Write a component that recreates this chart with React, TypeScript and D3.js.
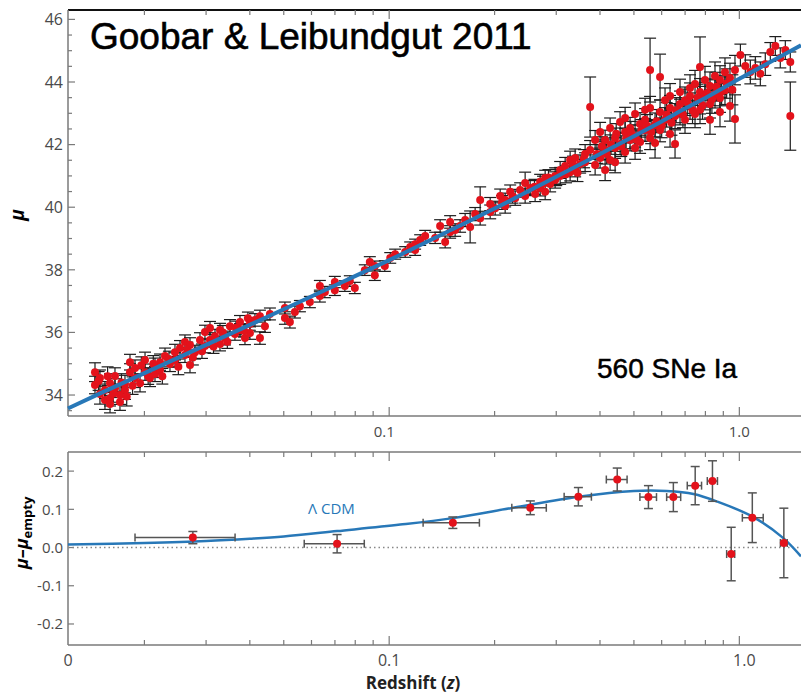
import * as d3 from 'd3'

// --- DATA ---
// Hubble diagram points: [z, mu, sigma_mu]
const nearbySNe: [number, number, number][] = [
  [0.01445, 34.73, 0.3], [0.01445, 34.32, 0.28], [0.01493, 34.03, 0.32], [0.01493, 34.54, 0.26],
  [0.01543, 33.84, 0.3], [0.01543, 34.16, 0.27], [0.01595, 34.38, 0.3], [0.01595, 33.9, 0.25],
  [0.01595, 33.71, 0.28], [0.01648, 34.22, 0.3], [0.01648, 34.61, 0.26], [0.01703, 34.0, 0.3],
  [0.01703, 33.78, 0.27], [0.0176, 34.35, 0.28], [0.0176, 34.16, 0.3], [0.01819, 34.73, 0.27],
  [0.01819, 35.05, 0.25], [0.0188, 34.54, 0.3], [0.0188, 34.86, 0.26], [0.01943, 34.38, 0.28],
  [0.02008, 34.73, 0.26], [0.02008, 35.12, 0.25], [0.02075, 34.54, 0.27], [0.02144, 34.93, 0.25],
  [0.02144, 34.67, 0.24], [0.02216, 35.05, 0.26], [0.02216, 34.8, 0.24], [0.0229, 35.25, 0.25],
  [0.02366, 34.99, 0.24], [0.02445, 35.37, 0.25], [0.02445, 35.12, 0.23], [0.02527, 35.5, 0.24],
  [0.02611, 35.69, 0.23], [0.02611, 35.28, 0.24], [0.02699, 34.96, 0.25], [0.02699, 35.6, 0.23],
  [0.02789, 35.37, 0.22], [0.02882, 35.76, 0.23], [0.02978, 35.57, 0.22], [0.02978, 36.01, 0.22],
  [0.03078, 35.76, 0.23], [0.03078, 36.14, 0.21], [0.03181, 35.88, 0.22], [0.03287, 35.63, 0.22],
  [0.03287, 36.08, 0.21], [0.03397, 35.82, 0.22], [0.0351, 36.2, 0.21], [0.03627, 35.95, 0.2],
  [0.03749, 36.33, 0.21], [0.03749, 36.08, 0.2], [0.03874, 35.82, 0.21], [0.04003, 36.27, 0.2],
  [0.04003, 35.98, 0.2],
  [0.0148, 34.45, 0.3], [0.0157, 34.6, 0.3], [0.0163, 34.05, 0.28], [0.0172, 34.4, 0.28],
  [0.0178, 33.95, 0.3], [0.0185, 34.3, 0.28], [0.0196, 34.95, 0.27], [0.0205, 34.6, 0.26],
  [0.0212, 35.0, 0.26], [0.0225, 34.6, 0.25], [0.0235, 35.15, 0.25], [0.025, 34.9, 0.25],
  [0.0265, 35.45, 0.24], [0.0275, 35.2, 0.24], [0.0292, 35.4, 0.23], [0.0315, 35.55, 0.22],
  [0.0335, 36.0, 0.22], [0.0345, 35.7, 0.21], [0.0365, 36.15, 0.21], [0.0385, 36.05, 0.2],
  [0.0395, 36.45, 0.2],
]

const midSNe: [number, number, number][] = [
  [0.04275, 35.82, 0.2], [0.04137, 36.4, 0.2], [0.04275, 36.52, 0.19], [0.04418, 36.2, 0.2],
  [0.04565, 36.59, 0.19], [0.05038, 36.46, 0.2], [0.05038, 36.78, 0.19], [0.05206, 36.33, 0.19],
  [0.0538, 36.65, 0.19], [0.0556, 36.84, 0.18], [0.05937, 36.97, 0.18], [0.0634, 37.16, 0.19],
  [0.0634, 37.48, 0.18], [0.06552, 37.29, 0.18], [0.06996, 37.61, 0.18], [0.06996, 37.35, 0.17],
  [0.07472, 37.48, 0.17], [0.07721, 37.64, 0.17], [0.07979, 37.42, 0.18], [0.08521, 37.99, 0.17],
  [0.08805, 38.25, 0.17], [0.09099, 37.83, 0.17], [0.09099, 38.12, 0.16], [0.09717, 38.12, 0.17],
  [0.1007, 38.38, 0.17], [0.104, 38.5, 0.16], [0.1111, 38.57, 0.17], [0.1148, 38.73, 0.16],
  [0.1186, 38.63, 0.17], [0.1186, 38.82, 0.16], [0.1226, 38.95, 0.17], [0.1267, 39.08, 0.18],
  [0.1353, 39.02, 0.18], [0.1398, 39.4, 0.2], [0.1445, 38.89, 0.19], [0.1493, 39.21, 0.2],
  [0.1493, 39.53, 0.2], [0.1543, 39.27, 0.2], [0.1594, 39.4, 0.2], [0.1648, 39.59, 0.21],
  [0.1703, 39.37, 0.51], [0.176, 39.78, 0.21], [0.1819, 40.23, 0.42], [0.1819, 39.65, 0.22],
  [0.1943, 39.85, 0.22], [0.1943, 40.1, 0.21], [0.2008, 39.97, 0.22], [0.2075, 40.36, 0.22],
  [0.2144, 40.23, 0.22], [0.2144, 40.04, 0.23], [0.2216, 40.49, 0.22], [0.229, 40.29, 0.23],
  [0.2366, 40.55, 0.23], [0.2445, 40.77, 0.35], [0.2445, 40.36, 0.23], [0.2527, 40.61, 0.24],
  [0.2611, 40.42, 0.24], [0.2699, 40.81, 0.24], [0.2699, 40.61, 0.25], [0.2789, 40.93, 0.25],
  [0.2789, 40.49, 0.25], [0.2882, 40.74, 0.25], [0.2978, 41.0, 0.26], [0.2978, 40.87, 0.26],
  [0.3078, 41.19, 0.27], [0.3078, 41.0, 0.27], [0.3181, 41.32, 0.27], [0.3287, 41.12, 0.28],
  [0.3287, 41.51, 0.28], [0.3397, 41.25, 0.28], [0.3397, 41.57, 0.29], [0.351, 41.38, 0.29],
  [0.3627, 41.7, 0.3], [0.3627, 41.44, 0.3],
  [0.21, 40.15, 0.22], [0.225, 40.35, 0.22], [0.26, 40.65, 0.24], [0.275, 40.75, 0.24],
  [0.285, 40.95, 0.25], [0.3, 40.95, 0.26], [0.32, 41.05, 0.27], [0.335, 41.35, 0.28],
  [0.345, 41.1, 0.28], [0.36, 41.55, 0.29],
]

const distantSNe: [number, number, number][] = [
  [0.3749, 41.83, 0.3], [0.3874, 41.35, 0.32], [0.3874, 42.15, 0.3], [0.4003, 41.57, 0.32],
  [0.4003, 42.4, 0.31], [0.4137, 41.19, 0.34], [0.4137, 41.83, 0.32], [0.4137, 42.15, 0.31],
  [0.4275, 41.51, 0.33], [0.4275, 42.53, 0.32], [0.4418, 41.89, 0.33], [0.4418, 42.21, 0.32],
  [0.4418, 41.44, 0.34], [0.4565, 42.72, 0.33], [0.4565, 42.02, 0.34], [0.4718, 42.4, 0.34],
  [0.4718, 41.76, 0.35], [0.4718, 42.85, 0.34], [0.4875, 42.15, 0.35], [0.4875, 42.53, 0.34],
  [0.5038, 41.89, 0.36], [0.5038, 42.98, 0.35], [0.5038, 42.27, 0.35], [0.5206, 42.66, 0.36],
  [0.5206, 42.08, 0.36], [0.538, 43.11, 0.37], [0.538, 42.47, 0.36], [0.538, 42.79, 0.36],
  [0.556, 42.21, 0.37], [0.556, 43.17, 0.37], [0.5745, 42.63, 0.38], [0.5745, 42.05, 0.48],
  [0.5937, 43.04, 0.38], [0.5937, 42.47, 0.38], [0.6135, 43.42, 0.39], [0.6135, 42.79, 0.39],
  [0.634, 43.17, 0.4], [0.634, 42.34, 0.42], [0.634, 43.55, 0.4], [0.6552, 42.91, 0.4],
  [0.6552, 42.02, 0.45], [0.677, 43.3, 0.41], [0.677, 43.68, 0.41], [0.677, 43.04, 0.41],
  [0.6996, 43.42, 0.42], [0.6996, 42.79, 0.43], [0.723, 43.81, 0.42], [0.723, 43.23, 0.42],
  [0.723, 43.55, 0.42], [0.7472, 42.98, 0.44], [0.7472, 43.94, 0.43], [0.7721, 43.42, 0.44],
  [0.7721, 43.68, 0.43], [0.7721, 43.11, 0.44], [0.7979, 44.06, 0.44], [0.7979, 43.55, 0.44],
  [0.8245, 42.79, 0.46], [0.8245, 43.87, 0.45], [0.8245, 43.3, 0.45], [0.8521, 44.19, 0.45],
  [0.8521, 43.62, 0.45], [0.8805, 43.04, 0.47], [0.8805, 44.06, 0.46], [0.8805, 43.49, 0.46],
  [0.9099, 44.31, 0.46], [0.9099, 43.74, 0.46], [0.9403, 43.23, 0.48], [0.9403, 44.13, 0.47],
  [0.9717, 44.38, 0.47], [1.007, 44.86, 0.35], [1.04, 44.51, 0.36], [1.075, 44.32, 0.38],
  [1.111, 44.45, 0.36], [1.148, 44.26, 0.38], [1.186, 44.57, 0.36], [1.226, 44.96, 0.3],
  [1.267, 45.15, 0.3], [1.309, 44.77, 0.32], [1.353, 45.02, 0.3], [1.398, 44.64, 0.32],
  [0.392, 41.7, 0.3], [0.405, 41.95, 0.3], [0.418, 41.7, 0.32], [0.43, 42.0, 0.31],
  [0.445, 42.35, 0.32], [0.46, 41.95, 0.33], [0.475, 42.2, 0.33], [0.49, 42.4, 0.34],
  [0.51, 42.15, 0.35], [0.525, 42.45, 0.35], [0.545, 42.6, 0.36], [0.56, 42.4, 0.37],
  [0.58, 42.75, 0.37], [0.6, 42.6, 0.38], [0.62, 42.95, 0.39], [0.64, 42.7, 0.4],
  [0.66, 43.1, 0.4], [0.69, 42.95, 0.41], [0.71, 43.35, 0.42], [0.735, 43.1, 0.43],
  [0.76, 43.5, 0.43], [0.785, 43.25, 0.44], [0.81, 43.65, 0.45], [0.835, 43.45, 0.45],
  [0.86, 43.85, 0.46], [0.89, 43.7, 0.46], [0.92, 43.95, 0.47], [0.955, 43.75, 0.48],
]

const outlierSNe: [number, number, number][] = [
  [0.3749, 43.2, 0.96], [0.556, 44.38, 1.02], [0.5937, 44.16, 0.73],
  [0.7721, 44.48, 0.96], [0.9717, 42.82, 0.77], [1.398, 42.91, 1.09],
]

// LCDM distance modulus (H0 = 70, Om = 0.27)
const lcdmZ = [0.0121, 0.015, 0.02, 0.03, 0.04, 0.05, 0.07, 0.1, 0.15, 0.2, 0.3, 0.4, 0.5, 0.6, 0.7, 0.8, 1.0, 1.2, 1.5]
const lcdmMu = [33.57, 34.06, 34.7, 35.6, 36.24, 36.74, 37.5, 38.31, 39.27, 39.96, 40.97, 41.7, 42.27, 42.74, 43.15, 43.49, 44.1, 44.58, 45.17]

// mu - mu_empty for LCDM
const resCurveZ = [0.0121, 0.02, 0.03, 0.04, 0.05, 0.071, 0.1075, 0.152, 0.226, 0.347, 0.5, 0.62, 0.74, 0.866, 1.09, 1.33, 1.5]
const resCurve = [0.008, 0.012, 0.017, 0.023, 0.029, 0.043, 0.06, 0.077, 0.104, 0.133, 0.148, 0.148, 0.14, 0.12, 0.081, 0.026, -0.023]

// binned residuals
const binZ = [0.0275, 0.071, 0.152, 0.253, 0.347, 0.448, 0.55, 0.648, 0.748, 0.838, 0.948, 1.089, 1.34]
const binZLow = [0.0188, 0.0572, 0.125, 0.224, 0.316, 0.417, 0.52, 0.62, 0.71, 0.81, 0.92, 1.02, 1.31]
const binZHigh = [0.0363, 0.0849, 0.181, 0.281, 0.378, 0.478, 0.58, 0.68, 0.78, 0.866, 0.97, 1.17, 1.37]
const binRes = [0.026, 0.01, 0.065, 0.104, 0.133, 0.178, 0.132, 0.132, 0.162, 0.174, -0.017, 0.078, 0.012]
const binErr = [0.016, 0.024, 0.015, 0.018, 0.024, 0.03, 0.03, 0.038, 0.05, 0.053, 0.07, 0.065, 0.091]

// axes
const zDomain = [0.0121, 1.5]
const muDomain = [33.33, 46.3]
const resDomain = [-0.255, 0.25]
const muTicks = [34, 36, 38, 40, 42, 44, 46]
const resTicks = [-0.2, -0.1, 0.0, 0.1, 0.2]
const zMajorTicks = [0.1, 1.0]
const zMinorTicks = [0.02, 0.03, 0.04, 0.05, 0.06, 0.07, 0.08, 0.09, 0.2, 0.3, 0.4, 0.5, 0.6, 0.7, 0.8, 0.9]
const zBottomLabels = ['0', '0.1', '1.0']
const zTopLabels = ['0.1', '1.0']

const RED = '#e3121b'
const BLUE = '#2878b8'
const AXIS = '#7a7a7a'
const LABEL = '#4a4a4a'
const FONT = '"Open Sans", "Noto Sans", sans-serif'
const TITLE_FONT = '"Liberation Sans", Arial, sans-serif'

export default function App() {
  const width = 801
  const height = 696
  const left = 68
  const right = 801
  const top1 = 10
  const bot1 = 416
  const top2 = 452
  const bot2 = 645

  const x = d3.scaleLog().domain(zDomain).range([left, right])
  const y1 = d3.scaleLinear().domain(muDomain).range([bot1, top1])
  const y2 = d3.scaleLinear().domain(resDomain).range([bot2, top2])

  const allSNe = [...nearbySNe, ...midSNe, ...distantSNe, ...outlierSNe]
  const muMinor = d3.range(33.5, 46.01, 0.5)

  const lcdmPath = d3
    .line<number>()
    .x((z) => x(z))
    .y((_, i) => y1(lcdmMu[i]))
    .curve(d3.curveMonotoneX)(lcdmZ)

  const resPath = d3
    .line<number>()
    .x((z) => x(z))
    .y((_, i) => y2(resCurve[i]))
    .curve(d3.curveCatmullRom.alpha(0.5))(resCurveZ)

  const capW = 6

  // x-axis ticks for a panel: bottom pointing up, top pointing down
  const xTicks = (yTop: number, yBot: number, key: string) => (
    <g key={key} stroke={AXIS} strokeWidth={1.2}>
      {zMinorTicks.map((t) => (
        <g key={t}>
          <line x1={x(t)} x2={x(t)} y1={yBot} y2={yBot - 5} />
          <line x1={x(t)} x2={x(t)} y1={yTop} y2={yTop + 5} />
        </g>
      ))}
      {zMajorTicks.map((t) => (
        <g key={t}>
          <line x1={x(t)} x2={x(t)} y1={yBot} y2={yBot - 9} />
          <line x1={x(t)} x2={x(t)} y1={yTop} y2={yTop + 9} />
        </g>
      ))}
    </g>
  )

  return (
    <div style={{ position: 'absolute', left: 0, top: 0, background: '#fff' }}>
      <svg width={width} height={height} style={{ display: 'block' }}>
        <rect width={width} height={height} fill="#fff" />

        {/* --- TOP PANEL --- */}
        <line x1={left} x2={right} y1={top1} y2={top1} stroke="#111" strokeWidth={2} />
        <line x1={left} x2={right} y1={bot1} y2={bot1} stroke={AXIS} strokeWidth={1.5} />
        <line x1={left} x2={left} y1={top1} y2={bot1} stroke={AXIS} strokeWidth={1.5} />
        {xTicks(top1, bot1, 'xt1')}
        <g stroke={AXIS} strokeWidth={1.2}>
          {muMinor.map((t) => (
            <line key={t} x1={left} x2={left + (t % 2 === 0 ? 7 : 4)} y1={y1(t)} y2={y1(t)} />
          ))}
        </g>
        <g fontFamily={FONT} fontSize={16} fill={LABEL} textAnchor="end">
          {muTicks.map((t) => (
            <text key={t} x={left - 5} y={y1(t)} dy="0.36em">
              {t}
            </text>
          ))}
        </g>
        <g fontFamily={FONT} fontSize={15} fill={LABEL} textAnchor="middle">
          {zMajorTicks.map((t, i) => (
            <text key={t} x={x(t) - (i === 0 ? 5 : 0)} y={437}>
              {zTopLabels[i]}
            </text>
          ))}
        </g>
        <text
          transform="translate(24,215) rotate(-90)"
          textAnchor="middle"
          fontFamily={FONT}
          fontWeight="bold"
          fontStyle="italic"
          fontSize={19}
        >
          μ
        </text>

        {/* error bars */}
        <g stroke="#1e1e1e" strokeWidth={1.2}>
          {allSNe.map(([z, mu, s], i) => {
            const cx = x(z)
            const ya = y1(mu + s)
            const yb = y1(mu - s)
            return (
              <g key={i}>
                <line x1={cx} x2={cx} y1={ya} y2={yb} />
                <line x1={cx - capW} x2={cx + capW} y1={ya} y2={ya} />
                <line x1={cx - capW} x2={cx + capW} y1={yb} y2={yb} />
              </g>
            )
          })}
        </g>
        <g fill={RED}>
          {allSNe.map(([z, mu], i) => (
            <circle key={i} cx={x(z)} cy={y1(mu)} r={4} />
          ))}
        </g>
        <path d={lcdmPath ?? ''} fill="none" stroke={BLUE} strokeWidth={4} />

        <text x={90} y={49} fontFamily={TITLE_FONT} fontSize={37} fill="#000" stroke="#000" strokeWidth={0.6}>
          Goobar &amp; Leibundgut 2011
        </text>
        <text x={597} y={378} fontFamily={TITLE_FONT} fontSize={28} fill="#000" stroke="#000" strokeWidth={0.5}>
          560 SNe Ia
        </text>

        {/* --- BOTTOM PANEL --- */}
        <line x1={left} x2={right} y1={top2} y2={top2} stroke={AXIS} strokeWidth={1.5} />
        <line x1={left} x2={right} y1={bot2} y2={bot2} stroke={AXIS} strokeWidth={1.5} />
        <line x1={left} x2={left} y1={top2} y2={bot2} stroke={AXIS} strokeWidth={1.5} />
        {xTicks(top2, bot2, 'xt2')}
        <g stroke={AXIS} strokeWidth={1.2}>
          {resTicks.map((t) => (
            <line key={t} x1={left} x2={left + 6} y1={y2(t)} y2={y2(t)} />
          ))}
        </g>
        <g fontFamily={FONT} fontSize={15} fill={LABEL} textAnchor="end">
          {resTicks.map((t) => (
            <text key={t} x={left - 5} y={y2(t)} dy="0.36em">
              {d3.format('.1f')(t).replace('−', '-')}
            </text>
          ))}
        </g>
        <g fontFamily={FONT} fontSize={16} fill={LABEL} textAnchor="middle">
          <text x={left} y={666}>
            {zBottomLabels[0]}
          </text>
          {zMajorTicks.map((t, i) => (
            <text key={t} x={x(t) + (i === 1 ? 5 : 0)} y={666}>
              {zBottomLabels[i + 1]}
            </text>
          ))}
        </g>
        <line
          x1={left}
          x2={right}
          y1={y2(0)}
          y2={y2(0)}
          stroke="#888"
          strokeWidth={1.5}
          strokeDasharray="1.5 3"
        />
        <path d={resPath ?? ''} fill="none" stroke={BLUE} strokeWidth={2.5} />
        <text x={308} y={514} fontFamily={FONT} fontSize={15} fill={BLUE}>
          Λ CDM
        </text>

        <g stroke="#555" strokeWidth={1.5}>
          {binZ.map((z, i) => {
            const cx = x(z)
            const cy = y2(binRes[i])
            const xa = x(binZLow[i])
            const xb = x(binZHigh[i])
            const ya = y2(binRes[i] + binErr[i])
            const yb = y2(binRes[i] - binErr[i])
            return (
              <g key={z}>
                <line x1={xa} x2={xb} y1={cy} y2={cy} />
                <line x1={xa} x2={xa} y1={cy - 4} y2={cy + 4} />
                <line x1={xb} x2={xb} y1={cy - 4} y2={cy + 4} />
                <line x1={cx} x2={cx} y1={ya} y2={yb} />
                <line x1={cx - 4.5} x2={cx + 4.5} y1={ya} y2={ya} />
                <line x1={cx - 4.5} x2={cx + 4.5} y1={yb} y2={yb} />
              </g>
            )
          })}
        </g>
        <g fill={RED}>
          {binZ.map((z, i) => (
            <circle key={z} cx={x(z)} cy={y2(binRes[i])} r={4} />
          ))}
        </g>

        <text
          transform="translate(28,533) rotate(-90)"
          textAnchor="middle"
          fontFamily={FONT}
          fontWeight="bold"
          fontSize={18}
        >
          <tspan fontStyle="italic">μ</tspan>
          <tspan>–</tspan>
          <tspan fontStyle="italic">μ</tspan>
          <tspan fontSize={13} dy={4}>
            empty
          </tspan>
        </text>

        <text x={413} y={689} textAnchor="middle" fontFamily={FONT} fontWeight="bold" fontSize={17} fill="#222">
          Redshift (<tspan fontStyle="italic">z</tspan>)
        </text>
      </svg>
    </div>
  )
}
